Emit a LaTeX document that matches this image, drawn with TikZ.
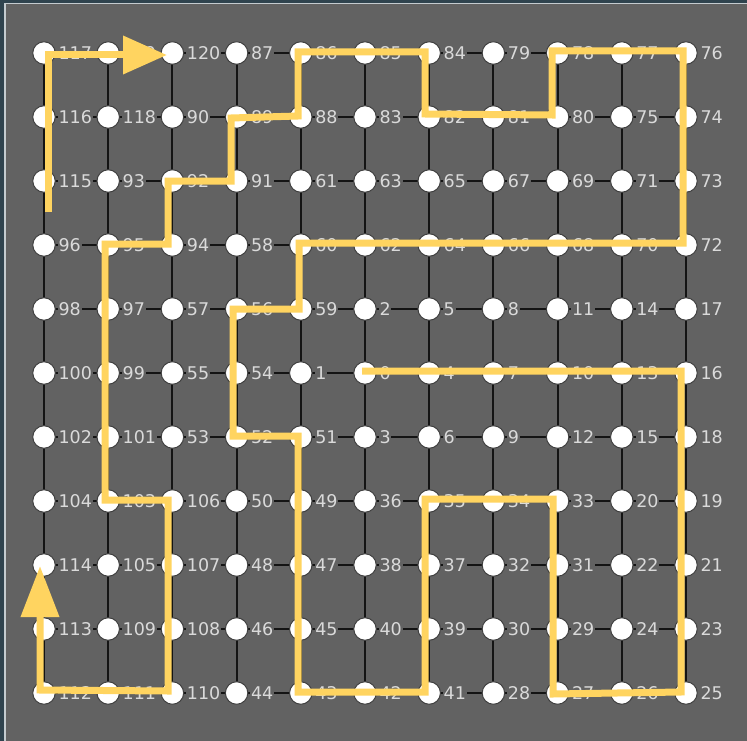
\documentclass[tikz,border=0pt]{standalone}
\usepackage{fontspec}
\setmainfont{DejaVu Sans}
\usetikzlibrary{arrows.meta}
\definecolor{outerbg}{RGB}{47,67,78}
\definecolor{rimline}{RGB}{196,203,207}
\definecolor{panel}{RGB}{98,98,98}
\definecolor{pathyellow}{RGB}{255,212,96}
\definecolor{labelgray}{RGB}{218,218,218}
\pgfdeclarelayer{bglayer}
\pgfdeclarelayer{edgelayer}
\pgfsetlayers{bglayer,edgelayer,main}
\begin{document}
\begin{tikzpicture}[x=1pt,y=-1pt,
  vert/.style={circle,fill=white,draw=black!75,line width=1pt,minimum size=22.5pt,inner sep=0pt},
  numlabel/.style={anchor=west,fill=panel,text=labelgray,inner sep=0.8pt,font=\fontsize{17.5}{17.5}\selectfont},
  gridedge/.style={draw=black!92,line width=2pt},
  route/.style={draw=pathyellow,line width=7pt,line join=miter}
]
\begin{pgfonlayer}{bglayer}
  \fill[outerbg] (0,0) rectangle (747,741);
  \fill[rimline] (4,2.7) rectangle (747,741);
  \fill[panel] (5.5,4.3) rectangle (747,741);
\end{pgfonlayer}
\useasboundingbox (0,0) rectangle (747,741);

% labels and nodes
\foreach \r/\row in {
  0/{117,119,120,87,86,85,84,79,78,77,76},
  1/{116,118,90,89,88,83,82,81,80,75,74},
  2/{115,93,92,91,61,63,65,67,69,71,73},
  3/{96,95,94,58,60,62,64,66,68,70,72},
  4/{98,97,57,56,59,2,5,8,11,14,17},
  5/{100,99,55,54,1,0,4,7,10,13,16},
  6/{102,101,53,52,51,3,6,9,12,15,18},
  7/{104,103,106,50,49,36,35,34,33,20,19},
  8/{114,105,107,48,47,38,37,32,31,22,21},
  9/{113,109,108,46,45,40,39,30,29,24,23},
  10/{112,111,110,44,43,42,41,28,27,26,25}}{
  \foreach \lab [count=\c from 0] in \row {
    \node[numlabel] (t-\r-\c) at ({44+64.2*\c+13.5},{53+64*\r}) {\lab};
  }
}
\foreach \r in {0,...,10}{
  \foreach \c in {0,...,10}{
    \node[vert] (v-\r-\c) at ({44+64.2*\c},{53+64*\r}) {};
  }
}

% grid edges
\begin{pgfonlayer}{edgelayer}
\foreach \r in {0,...,10}{
  \foreach \c [evaluate=\c as \cn using int(\c+1)] in {0,...,9}{
    \draw[gridedge] (v-\r-\c.center) -- (v-\r-\cn.center);
  }
}
\foreach \r [evaluate=\r as \rn using int(\r+1)] in {0,...,9}{
  \foreach \c in {0,...,10}{
    \draw[gridedge] (v-\r-\c.center) -- (v-\rn-\c.center);
  }
}
\end{pgfonlayer}

% yellow route
\draw[route,-{Triangle[length=51pt,width=37pt]}]
  (362,371) -- (681,371) -- (681,692) -- (553,694) -- (553,499) -- (425,499)
  -- (425,692) -- (298,692) -- (298,436) -- (233,436) -- (233,309) -- (299,309)
  -- (299,243) -- (683,243) -- (683,51) -- (552,51) -- (552,115) -- (425,114)
  -- (425,52) -- (298,52) -- (298,116) -- (231,118) -- (231,181) -- (168,181)
  -- (168,244) -- (105,244) -- (105,500) -- (168,500) -- (168,691) -- (40,690)
  -- (40,566);
\draw[route,-{Triangle[length=44pt,width=37pt]}]
  (48,212) -- (48,55) -- (167,55);
\end{tikzpicture}
\end{document}
